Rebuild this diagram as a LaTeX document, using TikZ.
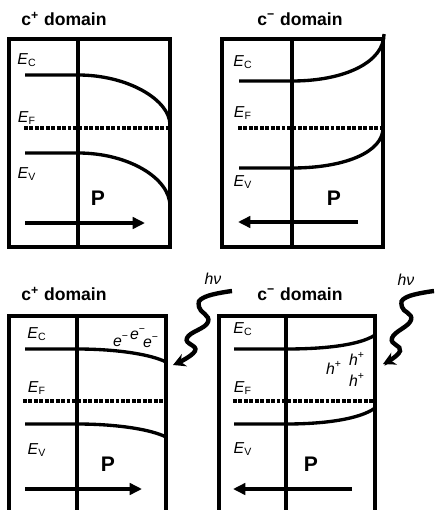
\documentclass[tikz,border=0pt]{standalone}
\usepackage{fontspec}
\setmainfont{Liberation Sans}
\usetikzlibrary{arrows.meta}

\begin{document}
\begin{tikzpicture}[x=0.02cm, y=-0.02cm,
        frame/.style={line width=2.1pt},
        band/.style={line width=1.9pt},
        fermi/.style={line width=2.2pt, dash pattern=on 2.2pt off 0.9pt},
        midline/.style={line width=2pt},
        polar/.style={line width=2.2pt, -{Triangle[length=7pt, width=6.5pt]}},
        photon/.style={line width=2.5pt, -{Stealth[length=7pt, width=7.5pt]}},
        lbl/.style={font=\fontsize{9}{10}\selectfont, inner sep=0pt},
        title/.style={font=\bfseries\fontsize{10}{12}\selectfont, inner sep=0pt},
        pol/.style={font=\bfseries\fontsize{12}{14}\selectfont, inner sep=0pt}]
        \useasboundingbox (0,0) rectangle (435,510);

        % frames and middle lines
        \draw[frame] (9,39) rectangle (170,247);
        \draw[frame] (222,39) rectangle (383,247);
        \draw[frame] (9,510) -- (9,316) -- (166,316) -- (166,510);
        \draw[frame] (219,510) -- (219,316) -- (375,316) -- (375,510);
        \foreach \x/\ya/\yb in {78/39/247, 292/39/247, 77/316/510, 286/316/510} {
            \draw[midline] (\x,\ya) -- (\x,\yb);
        }

        % titles
        \node[title] (tita) at (64,19) {c\textsuperscript{+} domain};
        \node[title] (titb) at (300,19) {c\textsuperscript{−} domain};
        \node[title] (titc) at (64,294) {c\textsuperscript{+} domain};
        \node[title] (titd) at (300,294) {c\textsuperscript{−} domain};

        % band labels
        \foreach \n/\x/\yc/\yf/\yv in {a/27/60/118/174, b/243/62/113/182, c/37/334/388/450, d/243/329/388/449} {
            \node[lbl] (ec\n) at (\x,\yc) {\textit{E}\textsubscript{C}};
            \node[lbl] (ef\n) at (\x,\yf) {\textit{E}\textsubscript{F}};
            \node[lbl] (ev\n) at (\x,\yv) {\textit{E}\textsubscript{V}};
        }

        % bands, c+ top
        \draw[band] (25,75) -- (78,75) .. controls (128,75) and (170,100) .. (170,125);
        \draw[band] (25,153) -- (78,153) .. controls (128,153) and (170,178) .. (170,206);
        \draw[fermi] (24,128) -- (170,128);

        % bands, c- top
        \draw[band] (239,81) -- (292,81) .. controls (345,81) and (384,62) .. (384,34);
        \draw[band] (239,168) -- (292,168) .. controls (345,168) and (383,152) .. (383,128);
        \draw[fermi] (238,128) -- (383,128);

        % bands, c+ bottom
        \draw[band] (25,349) -- (77,349) .. controls (115,349) and (150,354) .. (166,362);
        \draw[band] (25,424) -- (77,424) .. controls (115,424) and (150,429) .. (166,437);
        \draw[fermi] (23,401) -- (166,401);

        % bands, c- bottom
        \draw[band] (234,349) -- (286,349) .. controls (325,349) and (360,345) .. (375,335);
        \draw[band] (234,424) -- (286,424) .. controls (325,424) and (360,419) .. (375,408);
        \draw[fermi] (233,401) -- (375,401);

        % polarisation
        \node[pol] (pa) at (98,198) {P};
        \node[pol] (pb) at (334,198) {P};
        \node[pol] (pc) at (108,464) {P};
        \node[pol] (pd) at (311,464) {P};
        \coordinate (pa1) at (25,223);  \coordinate (pa2) at (145,223);
        \coordinate (pb1) at (358,222); \coordinate (pb2) at (238,222);
        \coordinate (pc1) at (25,489);  \coordinate (pc2) at (142,489);
        \coordinate (pd1) at (352,489); \coordinate (pd2) at (233,489);
        \draw[polar] (pa1) -- (pa2);
        \draw[polar] (pb1) -- (pb2);
        \draw[polar] (pc1) -- (pc2);
        \draw[polar] (pd1) -- (pd2);

        % carriers
        \node[lbl] (ea) at (121,341) {\textit{e}\textsuperscript{−}};
        \node[lbl] (eb) at (138,334) {\textit{e}\textsuperscript{−}};
        \node[lbl] (ec) at (151,342) {\textit{e}\textsuperscript{−}};
        \node[lbl] (ha) at (334,368) {\textit{h}\textsuperscript{+}};
        \node[lbl] (hb) at (357,359) {\textit{h}\textsuperscript{+}};
        \node[lbl] (hc) at (357,380) {\textit{h}\textsuperscript{+}};

        % light
        \node[lbl] (lc) at (213,279) {\textit{hν}};
        \node[lbl] (ld) at (406,280) {\textit{hν}};
        \draw[photon] plot[smooth, tension=0.8] coordinates {(232,291) (205,297) (199,307) (208,322) (187,338) (195,351) (173,365)};
        \draw[photon] plot[smooth, tension=0.8] coordinates {(434,291) (407,297) (402,307) (411,320) (392,338) (400,351) (383,364)};
\end{tikzpicture}
\end{document}
